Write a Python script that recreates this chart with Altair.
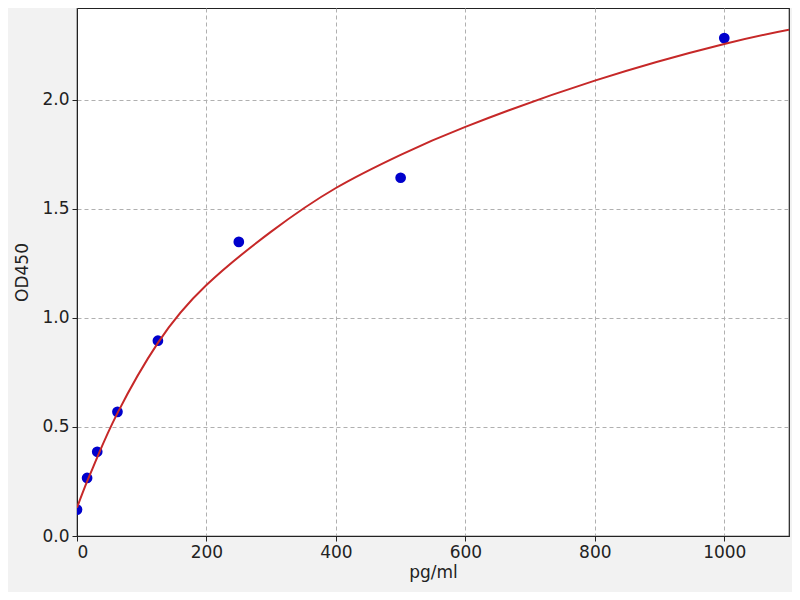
import pandas as pd
import altair as alt

# ── Data ──────────────────────────────────────────────────────────────────────

conc = [0, 15.6, 31.25, 62.5, 125, 250, 500, 1000]
od450 = [0.121, 0.266, 0.386, 0.569, 0.895, 1.348, 1.642, 2.282]

# fitted curve, read at a few x positions
curve_x = [0, 15.6, 31.25, 62.5, 125, 200, 300, 400, 500, 600, 800, 1000, 1100]
curve_y = [0.13, 0.25, 0.36, 0.563, 0.885, 1.15, 1.395, 1.595, 1.747, 1.875,
           2.087, 2.255, 2.32]

x_ticks = [0, 200, 400, 600, 800, 1000]
y_ticks = [0.0, 0.5, 1.0, 1.5, 2.0]

points = pd.DataFrame({'conc': conc, 'od': od450})
curve = pd.DataFrame({'conc': curve_x, 'od': curve_y})

FONT = 'DejaVu Sans'

x_scale = alt.Scale(domain=[0, 1100], nice=False, zero=False)
y_scale = alt.Scale(domain=[0, 2.42], nice=False, zero=False)

x_enc = alt.X(
    'conc:Q', scale=x_scale, title='pg/ml',
    axis=alt.Axis(values=x_ticks, format='d', titlePadding=4),
)
y_enc = alt.Y(
    'od:Q', scale=y_scale, title='OD450',
    axis=alt.Axis(values=y_ticks, format='.1f', titlePadding=10),
)

dots = alt.Chart(points).mark_circle(
    color='#0000cc', opacity=1, size=115, clip=True
).encode(x=x_enc, y=y_enc)

line = alt.Chart(curve).mark_line(
    color='#c62828', strokeWidth=2, interpolate='natural', clip=True
).encode(x=x_enc, y=y_enc)

chart = (
    (dots + line)
    .properties(
        width=712,
        height=528,
        autosize=alt.AutoSizeParams(type='none'),
        padding={'left': 69, 'top': 0, 'right': 3, 'bottom': 56},
        background='#f2f2f2',
    )
    .configure_view(stroke='#222222', strokeWidth=1.2, fill='white')
    .configure_axis(
        labelFont=FONT,
        titleFont=FONT,
        labelFontSize=17,
        titleFontSize=17,
        titleFontWeight='normal',
        labelColor='#222222',
        titleColor='#222222',
        domainColor='#222222',
        tickColor='#222222',
        tickSize=5,
        labelPadding=3,
        grid=True,
        gridColor='#b0b0b0',
        gridDash=[4, 3],
        gridWidth=1,
    )
)

chart.save('out.html', embed_options={'renderer': 'svg', 'actions': False})
